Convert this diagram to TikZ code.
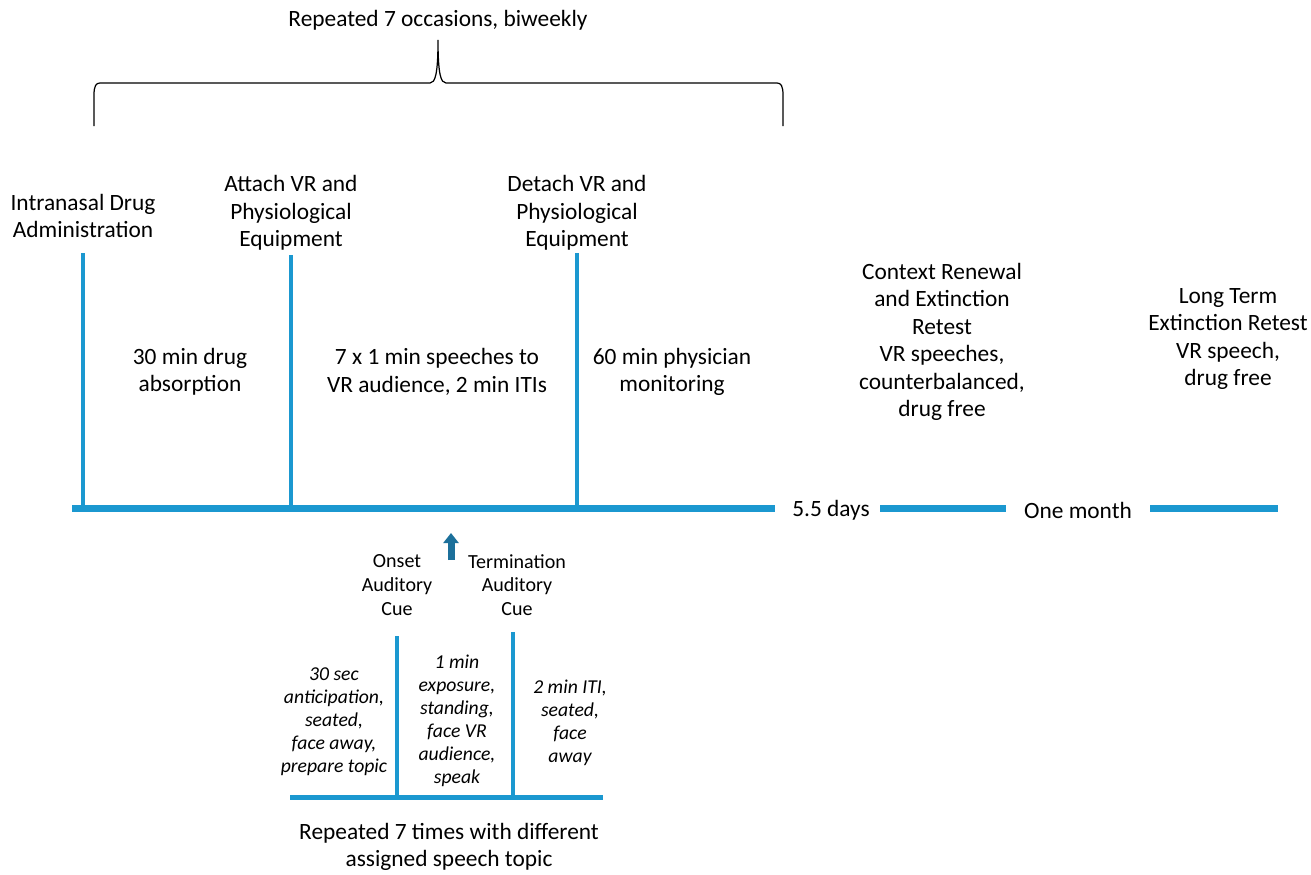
\documentclass[tikz,border=0pt]{standalone}
\usepackage{fontspec}
\setmainfont{Carlito}
\usepackage{xcolor}
\usetikzlibrary{arrows.meta, positioning}
\definecolor{lineblue}{RGB}{27,152,208}
\definecolor{arrowblue}{RGB}{28,112,155}

\begin{document}
\begin{tikzpicture}[
    x=0.02cm, y=-0.02cm,
    lbl/.style={align=center, font=\fontsize{13.3}{15.6}\selectfont, inner sep=0pt},
    cue/.style={align=center, font=\fontsize{11.4}{13.5}\selectfont, inner sep=0pt},
    phase/.style={align=center, font=\fontsize{11.2}{13.1}\selectfont\itshape, inner sep=0pt},
    axis/.style={draw=lineblue, line width=0.14cm},
    tick/.style={draw=lineblue, line width=0.08cm},
    cuearr/.style={-{Triangle[length=0.2cm, width=0.3cm]}, draw=arrowblue, line width=0.14cm}
]
\useasboundingbox (0,0) rectangle (1311,875);

% top brace
\node[lbl] (reptitle) at (438,20) {Repeated 7 occasions, biweekly};
\coordinate (braceL) at (94,126);
\coordinate (braceR) at (783,126);
\coordinate (braceT) at (438,40);
\draw[line width=0.7pt] (braceL) -- (94,95) .. controls (94,86) and (96,83) .. (100,83)
    -- (430,83) .. controls (435,83) and (438,75) .. (braceT)
    .. controls (438,75) and (441,83) .. (446,83)
    -- (777,83) .. controls (781,83) and (783,86) .. (783,95) -- (braceR);

% session events
\node[lbl] (drug) at (83,216) {Intranasal Drug\\Administration};
\node[lbl] (attach) at (291,213) {Attach VR and\\Physiological\\Equipment};
\node[lbl] (detach) at (577,213) {Detach VR and\\Physiological\\Equipment};

\node[lbl] (absorb) at (190,372) {30 min drug\\absorption};
\node[lbl] (speech) at (437,372) {7 x 1 min speeches to\\VR audience, 2 min ITIs};
\node[lbl] (monitor) at (672,372) {60 min physician\\monitoring};

\node[lbl] (renewal) at (942,342) {Context Renewal\\and Extinction\\Retest\\VR speeches,\\counterbalanced,\\drug free};
\node[lbl] (longterm) at (1228,339) {Long Term\\Extinction Retest\\VR speech,\\drug free};

% main timeline
\coordinate (mainL) at (72,508);
\coordinate (mainR) at (775,508);
\node[lbl] (days) at (831,510) {5.5 days};
\node[lbl] (month) at (1078,510) {One month};
\coordinate (segA) at (880,508);
\coordinate (segB) at (1006,508);
\coordinate (segC) at (1150,508);
\coordinate (segD) at (1278,508);
\draw[axis] (mainL) -- (mainR);
\draw[axis] (segA) -- (segB);
\draw[axis] (segC) -- (segD);

\draw[tick] (83,253) -- (83,508);
\draw[tick] (291,255) -- (291,508);
\draw[tick] (577,253) -- (577,508);

% speech trial
\coordinate (arrS) at (451,560);
\coordinate (arrE) at (451,533);
\draw[cuearr] (arrS) -- (arrE);

\node[cue] (onset) at (397,585) {Onset\\Auditory\\Cue};
\node[cue] (term) at (517,585) {Termination\\Auditory\\Cue};

\node[phase] (antic) at (334,722) {30 sec\\anticipation,\\seated,\\face away,\\prepare topic};
\node[phase] (expo) at (457,721) {1 min\\exposure,\\standing,\\face VR\\audience,\\speak};
\node[phase] (iti) at (570,723) {2 min ITI,\\seated,\\face\\away};

\coordinate (lowL) at (290,797);
\coordinate (lowR) at (603,797);
\draw[draw=lineblue, line width=0.1cm] (lowL) -- (lowR);
\draw[tick] (397,636) -- (397,797);
\draw[tick] (513,632) -- (513,797);

\node[lbl] (trialrep) at (449,847) {Repeated 7 times with different\\assigned speech topic};
\end{tikzpicture}
\end{document}
